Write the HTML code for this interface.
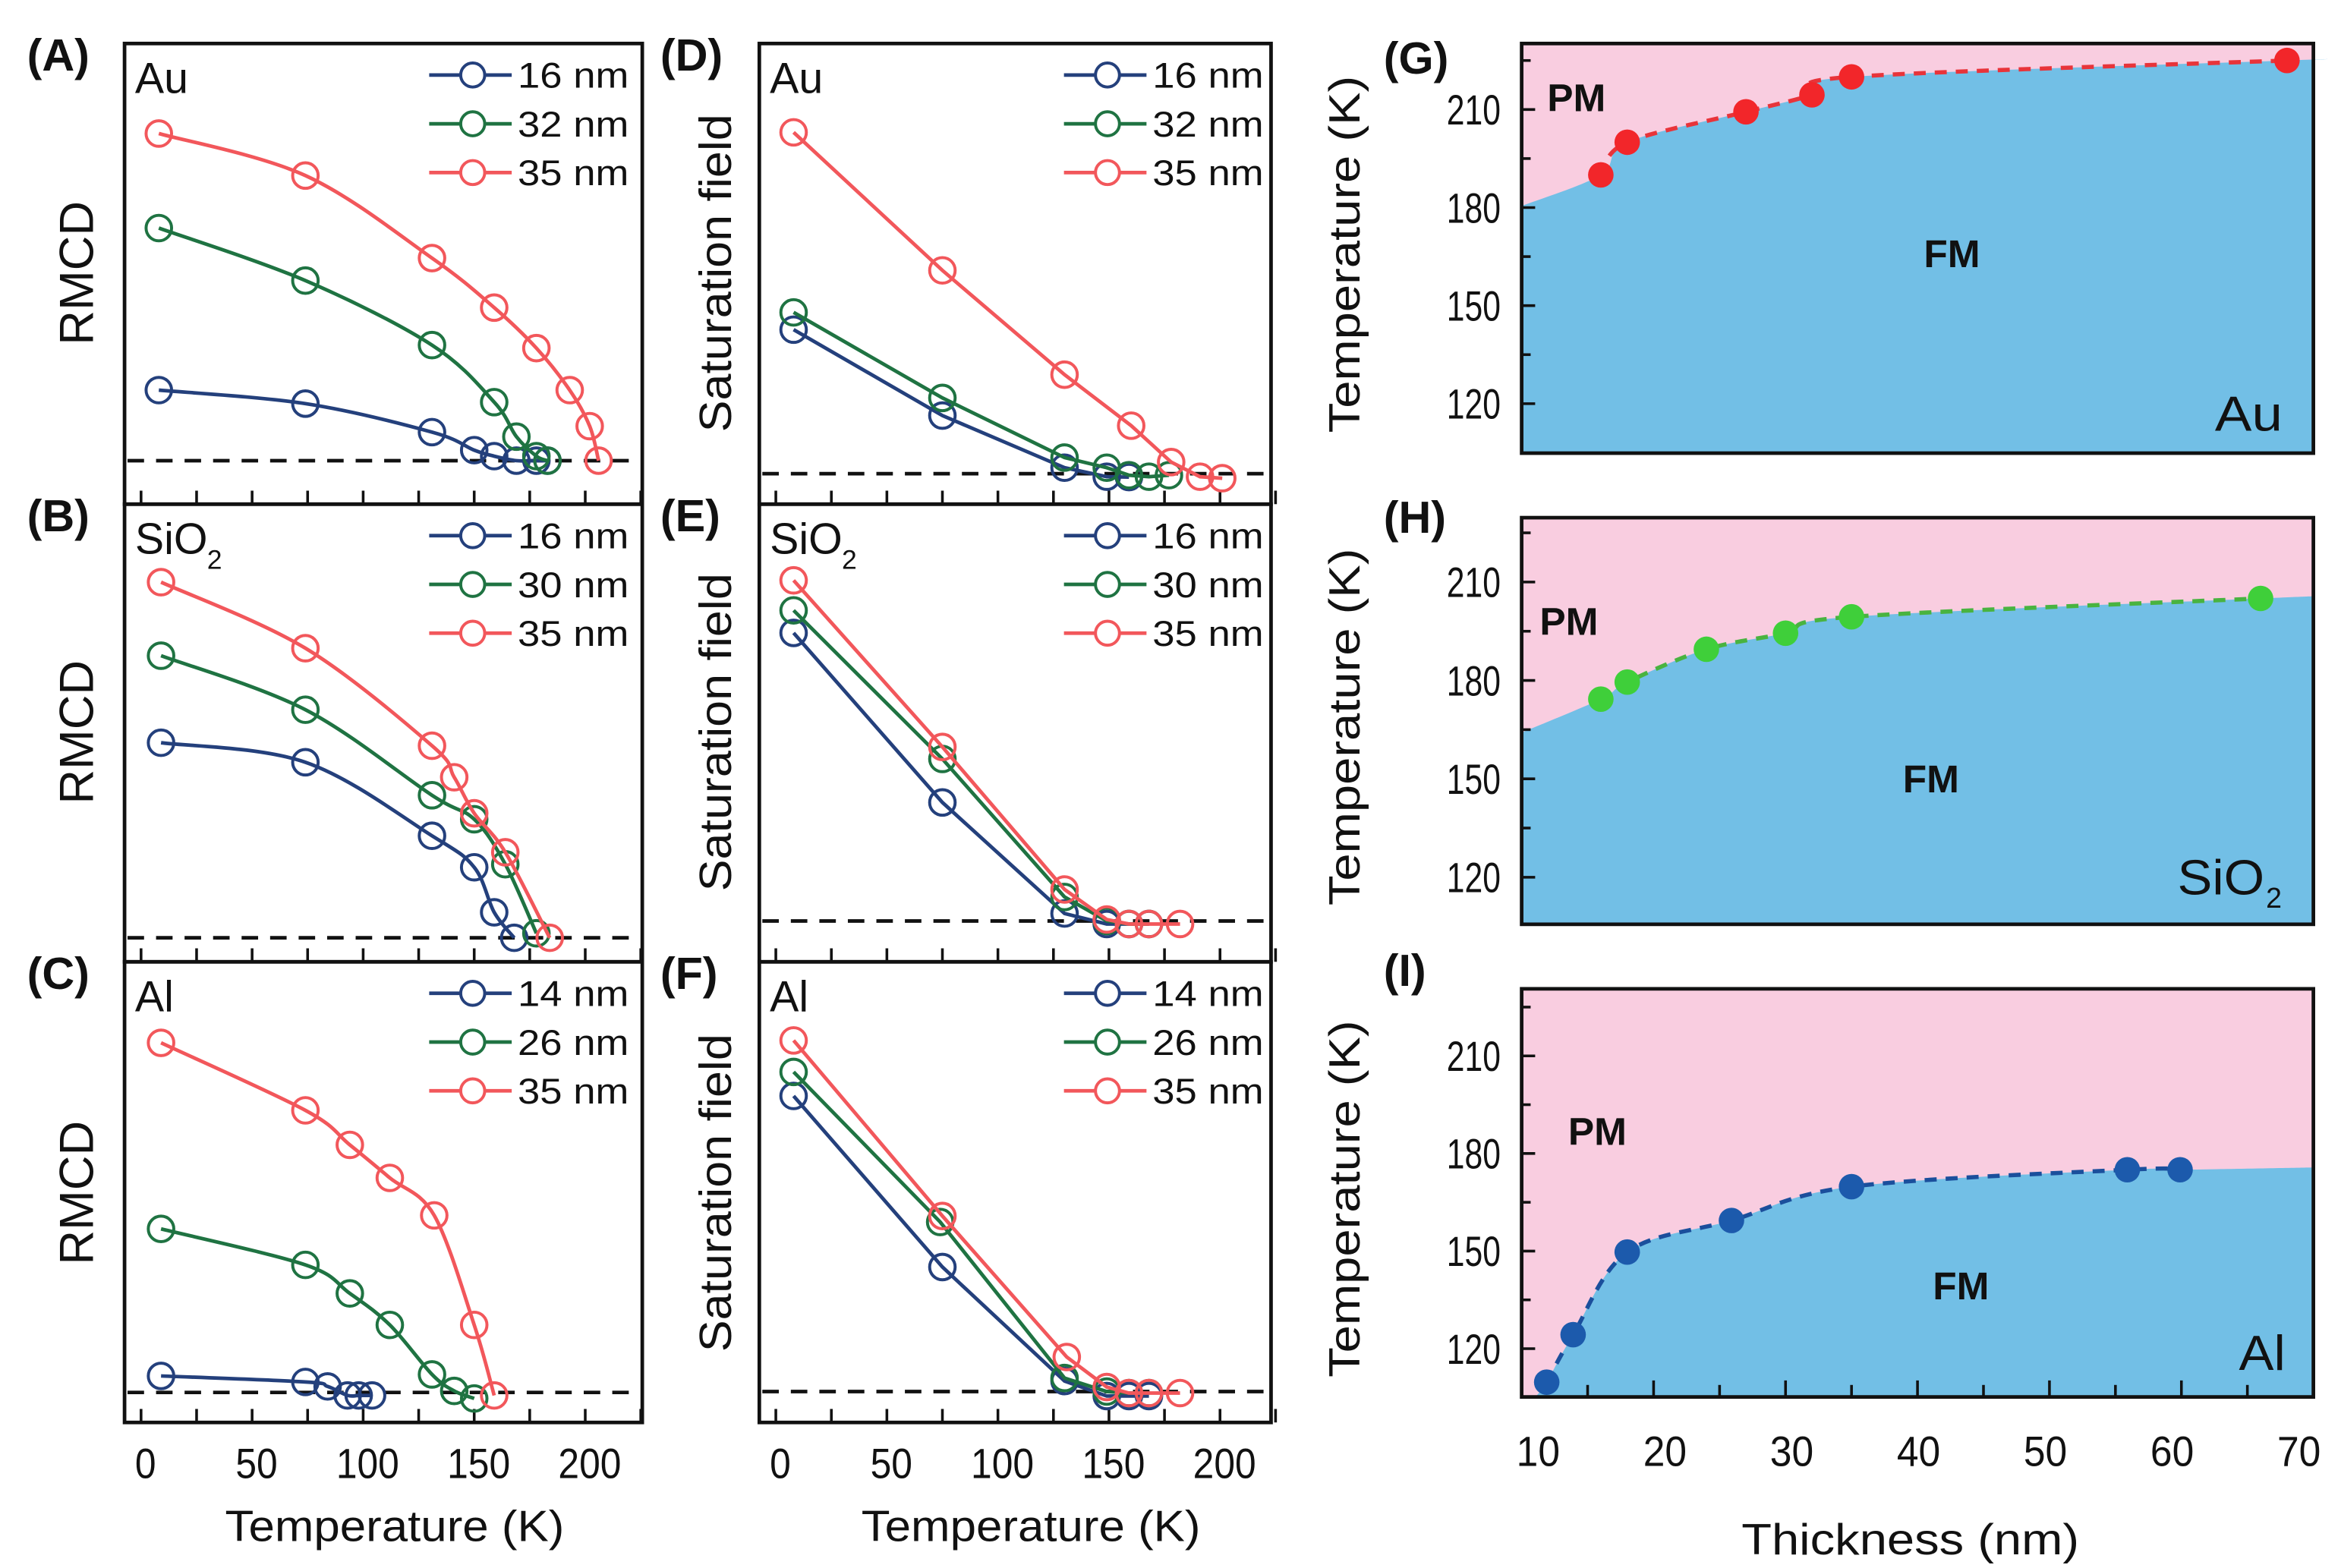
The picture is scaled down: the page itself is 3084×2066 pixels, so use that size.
<!DOCTYPE html>
<html><head><meta charset="utf-8"><style>
html,body{margin:0;padding:0;background:#fff}
svg{display:block}
text{font-family:"Liberation Sans",Arial,sans-serif;fill:#111}
</style></head><body>
<svg id="fig" xmlns="http://www.w3.org/2000/svg" width="3084" height="2066" viewBox="0 0 1560 1045" preserveAspectRatio="none">
<rect x="0" y="0" width="1560" height="1045" fill="#fff"/>
</svg>
<script>
// ---- Panel A (Au, RMCD) ----
const aT16=[8,74,131,150,159,169,178,183];
const aV16=[18.8,15.2,7.6,2.8,1.2,0,0,0];
const aT32=[8,74,131,159,169,178,183];
const aV32=[62,48,30.8,15.6,6.4,1.2,0];
const aT35=[8,74,131,159,178,193,202,206];
const aV35=[87.2,76,54,40.8,30,18.8,9.2,0];
// ---- Panel B (SiO2, RMCD) ----
const bT16=[9,74,131,150,159,168];
const bV16=[52,46.8,27.2,18.8,6.8,0];
const bT30=[9,74,131,150,164,178];
const bV30=[75.2,60.8,38,31.6,19.6,1.2];
const bT35=[9,74,131,141,150,164,184];
const bV35=[94.8,77.2,51.2,42.8,33.2,22.8,0];
// ---- Panel C (Al, RMCD) ----
const cT14=[9,74,84,93,98,104];
const cV14=[4.4,2.8,1.6,-0.8,-0.8,-0.8];
const cT26=[9,74,94,112,131,141,150];
const cV26=[43.6,34,26.4,18,4.8,0.4,-1.6];
const cT35=[9,74,94,112,132,150,159];
const cV35=[93.2,75.2,66,57.2,47.2,18,-0.8];
// ---- Panel D (Au, saturation field) ----
const dT16=[8,75,130,149,159];
const dV16=[38.4,15.5,1.6,-0.8,-0.9];
const dT32=[8,75,130,149,159,168,177];
const dV32=[43,20.2,4.3,1.6,-0.4,-0.8,-0.4];
const dT35=[8,75,130,160,178,191,201];
const dV35=[91,54.2,26.4,12.8,3.1,-0.8,-1.2];
// ---- Panel E (SiO2, saturation field) ----
const eT16=[8,75,130,149,159,168];
const eV16=[76.8,31.6,2,-0.8,-0.8,-0.8];
const eT30=[8,75,130,149,159,168];
const eV30=[82.8,43.2,6.4,0,-0.8,-0.8];
const eT35=[8,75,130,149,159,168,182];
const eV35=[90.8,46.4,8.4,0.4,-0.8,-0.8,-0.8];
// ---- Panel F (Al, saturation field) ----
const fT14=[8,75,130,149,159,168];
const fV14=[78.8,33.2,2.8,-1.2,-1.2,-1.2];
const fT26=[8,74,130,149,159,168];
const fV26=[85.2,45.2,3.6,0,-0.4,-0.4];
const fT35=[8,75,131,149,159,168,182];
const fV35=[93.6,46.8,9.2,1.2,-0.4,-0.4,-0.4];
// ---- Phase diagrams ----
const gThick=[16,18,27,32,35,68];
const gTc=[190,200,209.3,214.5,220,225];
const hThick=[16,18,24,30,35,66];
const hTc=[174.3,179.5,189.5,194.4,199.4,205];
const iThick=[11.9,13.9,18,25.9,35,55.9,59.9];
const iTc=[109.7,124.3,149.7,159.4,169.8,175,175];
const tempTicks=[0,50,100,150,200];
const thickTicks=[10,20,30,40,50,60,70];
const tcTicks=[120,150,180,210];

const NS='http://www.w3.org/2000/svg';
const svg=document.getElementById('fig');
function mk(tag,attrs,parent,txt){const e=document.createElementNS(NS,tag);for(const k in attrs)e.setAttribute(k,attrs[k]);if(txt!==undefined)e.textContent=txt;(parent||svg).appendChild(e);return e;}
function smooth(pts){if(pts.length<2)return '';let d='M'+pts[0][0]+','+pts[0][1];for(let i=0;i<pts.length-1;i++){const p0=pts[Math.max(0,i-1)],p1=pts[i],p2=pts[i+1],p3=pts[Math.min(pts.length-1,i+2)];const c1=[p1[0]+(p2[0]-p0[0])/6,p1[1]+(p2[1]-p0[1])/6],c2=[p2[0]-(p3[0]-p1[0])/6,p2[1]-(p3[1]-p1[1])/6];d+=' C'+c1[0]+','+c1[1]+' '+c2[0]+','+c2[1]+' '+p2[0]+','+p2[1];}return d;}
const COL={blue:'#24407c',green:'#1f7342',red:'#f2575b'};

function linePanel(p){
  const g=mk('g',{});
  
  
  const X=t=>p.x+11+t*1.48;
  const Y=v=>p.base-v*2.5;
  for(let t=0;t<=225;t+=25){const tk=mk('line',{x1:X(t),x2:X(t),y1:p.y+p.h,y2:p.y+p.h-9,stroke:'#111','stroke-width':1.8},g);
    
    }
  const dl=mk('line',{x1:p.x+2,x2:p.x+p.w-2,y1:p.base,y2:p.base,stroke:'#111','stroke-width':2.4,'stroke-dasharray':'11,8'},g);
  
  
  p.series.forEach(s=>{
    const pts=s.T.map((t,i)=>[X(t),Y(s.V[i])]);
    const ln=mk('path',{d:p.curve?smooth(pts):'M'+pts.map(q=>q.join(',')).join(' L'),fill:'none',stroke:COL[s.c],'stroke-width':2.4},g);
    
    
    pts.forEach(q=>{const c=mk('circle',{cx:q[0],cy:q[1],r:8.5,fill:'none',stroke:COL[s.c],'stroke-width':2},g);
      
      });
  });
  const fr=mk('rect',{x:p.x,y:p.y,width:p.w,height:p.h,fill:'none',stroke:'#111','stroke-width':2.4},g);
  
  
  const ml=mk('text',{x:p.x+7,y:p.y+33,'font-size':29},g,p.mat);
  
  
  if(p.sub){const sb=mk('text',{x:p.x+55,y:p.y+43,'font-size':18},g,'2');
    
    }
  p.series.forEach((s,i)=>{const yy=p.y+21+i*32.5;
    const lg=mk('g',{},g);
    
    
    mk('line',{x1:p.x+203,x2:p.x+258,y1:yy,y2:yy,stroke:COL[s.c],'stroke-width':2.4},lg);
    mk('circle',{cx:p.x+232,cy:yy,r:8,fill:'#fff',stroke:COL[s.c],'stroke-width':2},lg);
    mk('text',{x:p.x+262,y:yy+8.5,'font-size':24,textLength:74,lengthAdjust:'spacingAndGlyphs'},lg,s.label);
  });
  const pl=mk('text',{x:p.lx,y:p.y+18,'font-size':30,'font-weight':'bold'},g,p.tag);
  
  
  if(p.xlabels){tempTicks.forEach(t=>{const tl=mk('text',{x:X(t)+3,y:985,'font-size':28,'text-anchor':'middle',textLength:String(t).length*14,lengthAdjust:'spacingAndGlyphs'},g,String(t));
    
    });}
}
function rows(x,w){return [[29,307],[336,305],[641,307]].map(r=>({x:x,w:w,y:r[0],h:r[1]}));}
const rA=rows(83,345),rD=rows(506,341);
linePanel(Object.assign({name:'panel-a',tag:'(A)',lx:18,mat:'Au',base:307,curve:true,series:[{T:aT16,V:aV16,c:'blue',label:'16 nm'},{T:aT32,V:aV32,c:'green',label:'32 nm'},{T:aT35,V:aV35,c:'red',label:'35 nm'}]},rA[0]));
linePanel(Object.assign({name:'panel-b',tag:'(B)',lx:18,mat:'SiO',sub:true,base:625,curve:true,series:[{T:bT16,V:bV16,c:'blue',label:'16 nm'},{T:bT30,V:bV30,c:'green',label:'30 nm'},{T:bT35,V:bV35,c:'red',label:'35 nm'}]},rA[1]));
linePanel(Object.assign({name:'panel-c',tag:'(C)',lx:18,mat:'Al',base:928,curve:true,xlabels:true,series:[{T:cT14,V:cV14,c:'blue',label:'14 nm'},{T:cT26,V:cV26,c:'green',label:'26 nm'},{T:cT35,V:cV35,c:'red',label:'35 nm'}]},rA[2]));
linePanel(Object.assign({name:'panel-d',tag:'(D)',lx:440,mat:'Au',base:315.7,curve:false,series:[{T:dT16,V:dV16,c:'blue',label:'16 nm'},{T:dT32,V:dV32,c:'green',label:'32 nm'},{T:dT35,V:dV35,c:'red',label:'35 nm'}]},rD[0]));
linePanel(Object.assign({name:'panel-e',tag:'(E)',lx:440,mat:'SiO',sub:true,base:613.8,curve:false,series:[{T:eT16,V:eV16,c:'blue',label:'16 nm'},{T:eT30,V:eV30,c:'green',label:'30 nm'},{T:eT35,V:eV35,c:'red',label:'35 nm'}]},rD[1]));
linePanel(Object.assign({name:'panel-f',tag:'(F)',lx:440,mat:'Al',base:927.4,curve:false,xlabels:true,series:[{T:fT14,V:fV14,c:'blue',label:'14 nm'},{T:fT26,V:fV26,c:'green',label:'26 nm'},{T:fT35,V:fV35,c:'red',label:'35 nm'}]},rD[2]));

function yTitle(cx,cy,txt,fs,len,name){const t=mk('text',{x:0,y:0,'font-size':fs,'text-anchor':'middle',transform:'translate('+cx+','+cy+') rotate(-90)',textLength:len,lengthAdjust:'spacingAndGlyphs'},svg,txt);
  
  }
[182,488,795].forEach(c=>yTitle(62,c,'RMCD',32,96,'y-axis-title-rmcd'));
[182,488,795].forEach(c=>yTitle(487,c,'Saturation field',30,212,'y-axis-title-saturation'));
const xt1=mk('text',{x:263,y:1027,'font-size':29,'text-anchor':'middle',textLength:226,lengthAdjust:'spacingAndGlyphs'},svg,'Temperature (K)');


const xt2=mk('text',{x:687,y:1027,'font-size':29,'text-anchor':'middle',textLength:226,lengthAdjust:'spacingAndGlyphs'},svg,'Temperature (K)');



function phasePanel(p){
  const g=mk('g',{});
  
  
  const X=t=>1014+(t-10)*8.793;
  const Y=T=>p.y210+(210-T)*p.k;
  const x0=1014,x1=1541.6;
  const pk=mk('rect',{x:x0,y:p.y,width:x1-x0,height:p.h,fill:'#f9cde0'},g);
  
  
  const pts=[[X(p.start[0]),Y(p.start[1])]].concat(p.tk.map((t,i)=>[X(t),Y(p.tc[i])]));
  const end=[x1,Y(p.endT)];
  const bd=smooth(pts.concat([end]));
  const fm=mk('path',{d:bd+' L'+x1+','+(p.y+p.h)+' L'+x0+','+(p.y+p.h)+' Z',fill:'#72bfe6'},g);
  
  
  const dp=p.tk.map((t,i)=>[X(t),Y(p.tc[i])]);
  const dl=mk('path',{d:smooth(dp),fill:'none',stroke:p.lc,'stroke-width':2.8,'stroke-dasharray':'8,6'},g);
  
  
  dp.forEach(q=>{const c=mk('circle',{cx:q[0],cy:q[1],r:8.5,fill:p.dc},g);
    
    });
  for(let T=105;T<=230;T+=15){const yy=Y(T);if(yy<p.y+2||yy>p.y+p.h-2)continue;const major=tcTicks.indexOf(T)>=0;
    const tk=mk('line',{x1:x0,x2:x0+(major?9:6),y1:yy,y2:yy,stroke:'#111','stroke-width':1.8},g);
    
    }
  tcTicks.forEach(T=>{const tl=mk('text',{x:1000,y:Y(T)+10,'font-size':28,'text-anchor':'end',textLength:36,lengthAdjust:'spacingAndGlyphs'},g,String(T));
    
    });
  if(p.xlabels){
    for(let t=15;t<70;t+=5){const tk=mk('line',{x1:X(t),x2:X(t),y1:p.y+p.h,y2:p.y+p.h-(t%10==0?11:8),stroke:'#111','stroke-width':1.8},g);
      
      }
    thickTicks.forEach(t=>{const tl=mk('text',{x:1025+(X(t)-1014)*0.961,y:977,'font-size':28,'text-anchor':'middle',textLength:29,lengthAdjust:'spacingAndGlyphs'},g,String(t));
      
      });
  }
  const fr=mk('rect',{x:x0,y:p.y,width:x1-x0,height:p.h,fill:'none',stroke:'#111','stroke-width':2.4},g);
  
  
  const pm=mk('text',{x:p.pm[0],y:p.pm[1],'font-size':26,'font-weight':'bold'},g,'PM');
  
  
  const fmL=mk('text',{x:p.fm[0],y:p.fm[1],'font-size':26,'font-weight':'bold'},g,'FM');
  
  
  const ml=mk('text',{x:p.mat[0],y:p.mat[1],'font-size':33,textLength:p.mat[3],lengthAdjust:'spacingAndGlyphs'},g,p.mat[2]);
  
  
  if(p.sub){const sb=mk('text',{x:p.mat[0]+p.mat[3]+1,y:p.mat[1]+9,'font-size':19},g,'2');
    
    }
  const pl=mk('text',{x:922,y:p.tagY,'font-size':30,'font-weight':'bold'},g,p.tag);
  
  
  yTitle(906,p.y+p.h/2+4,'Temperature (K)',29,238,'y-axis-title-temperature');
}
phasePanel({name:'panel-g',tag:'(G)',tagY:49,y:29,h:273,y210:73,k:2.178,tk:gThick,tc:gTc,start:[10,180.5],endT:225.2,lc:'#e8343a',dc:'#f2262a',pm:[1031,74],fm:[1282,178],mat:[1476,287,'Au',45]});
phasePanel({name:'panel-h',tag:'(H)',tagY:355,y:345,h:271,y210:387.9,k:2.186,tk:hThick,tc:hTc,start:[10,164.1],endT:205.6,lc:'#49b340',dc:'#3fcf3a',pm:[1026,423],fm:[1268,528],mat:[1451,596,'SiO',58],sub:true});
phasePanel({name:'panel-i',tag:'(I)',tagY:657,y:659,h:272,y210:703.7,k:2.168,tk:iThick,tc:iTc,start:[11,105],endT:175.7,lc:'#1b4f9c',dc:'#1c5aac',pm:[1045,763],fm:[1288,866],mat:[1492,913,'Al',31],xlabels:true});
const xt3=mk('text',{x:1273,y:1036,'font-size':29,'text-anchor':'middle',textLength:225,lengthAdjust:'spacingAndGlyphs'},svg,'Thickness (nm)');


</script>
</body></html>
